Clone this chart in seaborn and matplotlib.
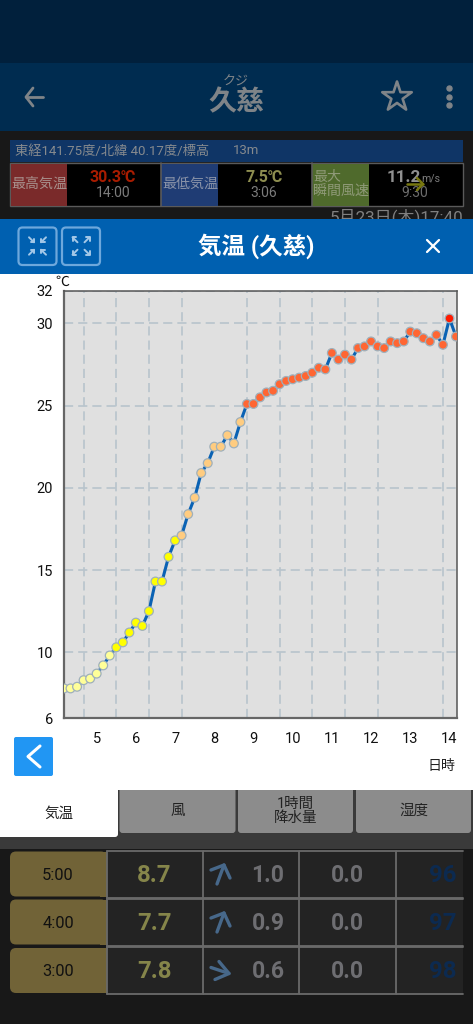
import numpy as np
import pandas as pd
import seaborn as sns
import matplotlib
matplotlib.use("Agg")
import matplotlib.pyplot as plt
from matplotlib.patches import Rectangle, FancyBboxPatch
from matplotlib.ticker import FixedLocator

# ---- data ----
temps = [7.8, 7.8, 7.9, 8.3, 8.4, 8.7, 9.2, 9.8, 10.3, 10.6, 11.2, 11.8, 11.6, 12.5, 14.3, 14.3,
         15.8, 16.8, 17.1, 18.4, 19.4, 20.9, 21.5, 22.5, 22.5, 23.2, 22.7, 24.0, 25.1, 25.1,
         25.5, 25.8, 25.9, 26.3, 26.5, 26.6, 26.7, 26.8, 27.0, 27.3, 27.2, 28.2, 27.8, 28.1,
         27.8, 28.5, 28.6, 28.9, 28.6, 28.5, 28.9, 28.8, 28.9, 29.5, 29.4, 29.1, 28.9, 29.3,
         28.7, 30.3, 29.2]
minutes_step = 10
first_hour = 4 + 10 / 60
hour_ticks = [5, 6, 7, 8, 9, 10, 11, 12, 13, 14]
temp_ticks = [6, 10, 15, 20, 25, 30, 32]
rows_time = ["5:00", "4:00", "3:00"]
rows_temp = ["8.7", "7.7", "7.8"]
rows_wind = ["1.0", "0.9", "0.6"]
rows_rain = ["0.0", "0.0", "0.0"]
rows_hum = ["96", "97", "98"]

band_colors = {"a": "#ffff99", "b": "#ffff00", "c": "#ffcc80", "d": "#ff6633", "e": "#ff1a00"}


def band(t):
    if t < 10:
        return "a"
    if t < 17:
        return "b"
    if t < 25:
        return "c"
    if t < 30:
        return "d"
    return "e"


df = pd.DataFrame({"hour": [first_hour + i * minutes_step / 60 for i in range(len(temps))], "temp": temps})
df["band"] = df["temp"].map(band)

# ---- figure ----
sns.set_theme(style="white")
plt.rcParams["font.family"] = ["Roboto", "Noto Sans CJK JP", "DejaVu Sans"]
W, H = 473, 1024
fig = plt.figure(figsize=(W / 100, H / 100), dpi=100)

ui = fig.add_axes([0, 0, 1, 1], zorder=0)
ui.set_xlim(0, W)
ui.set_ylim(H, 0)
ui.axis("off")


def R(x0, y0, x1, y1, c, ec="none", lw=0, z=1):
    ui.add_patch(Rectangle((x0, y0), x1 - x0, y1 - y0, fc=c, ec=ec, lw=lw, zorder=z))


def RR(x0, y0, x1, y1, c, ec="none", lw=0, r=4, z=1):
    ui.add_patch(FancyBboxPatch((x0 + r, y0 + r), x1 - x0 - 2 * r, y1 - y0 - 2 * r,
                                boxstyle=f"round,pad={r},rounding_size={r}", fc=c, ec=ec, lw=lw, zorder=z))


def T(x, y, s, px, c, ha="center", w="normal", z=3):
    ui.text(x, y, s, fontsize=px * 0.72, color=c, ha=ha, va="center", fontweight=w, zorder=z)


def L(xs, ys, c, lw=1.5, z=3):
    ui.plot(xs, ys, color=c, lw=lw, zorder=z, solid_capstyle="round", solid_joinstyle="round")


# dimmed app behind
R(0, 0, W, 63, "#01203c")
R(0, 63, W, 131, "#002c50")
R(0, 131, W, 220, "#181818")
GREY = "#7f8488"
L([26, 43], [97, 97], GREY, 2)
L([33, 26, 33], [88, 97, 106], GREY, 2)
T(236, 82, "クジ", 13, GREY)
T(236, 103, "久慈", 28, GREY, w="bold")
ui.scatter([397], [97], marker="*", s=500, facecolor="none", edgecolor=GREY, linewidth=1.9, zorder=3)
ui.scatter([449, 449, 449], [88, 97, 105], s=13, color=GREY, zorder=3)

R(10, 140, 463, 162, "#0f3566")
T(15, 151, "東経141.75度/北緯 40.17度/標高", 13.3, "#868a8e", ha="left")
T(233, 151, "13m", 13.3, "#868a8e", ha="left")
R(10, 163, 463, 206, "#000000", ec="#5a5a5a", lw=1)
R(11, 163.5, 67, 205.5, "#7a2a2a")
R(161, 163.5, 218, 205.5, "#1f3c74")
R(312, 163.5, 369, 205.5, "#4f6a2c")
for xv in (160.5, 311.5):
    L([xv, xv], [163, 206], "#5a5a5a", 1.2)
T(39, 184, "最高気温", 14, "#a8908c")
T(190, 184, "最低気温", 14, "#8a93a8")
T(313, 177, "最大", 14, "#8f9a78", ha="left")
T(341, 191, "瞬間風速", 14, "#8f9a78")
T(113, 177, "30.3℃", 16, "#a81c00", w="bold")
T(113, 193, "14:00", 14, "#7c7c7c")
T(264, 177, "7.5℃", 16, "#8e8e50", w="bold")
T(264, 193, "3:06", 14, "#7c7c7c")
T(404, 177, "11.2", 17, "#909090", w="bold")
T(431, 178, "m/s", 10.5, "#7c7c7c")
T(415, 193, "9:30", 14, "#6c6c6c")
L([407, 423], [184, 184], "#787810", 1.8)
L([417, 423, 417], [178, 184, 190], "#787810", 1.8)
T(463, 217, "5月23日(木)17:40", 17, "#808080", ha="right", z=1)

# dialog header
R(0, 219, W, 274, "#0060b0", z=2)
RR(18.5, 227.5, 56.5, 265, "none", ec="#6ea8dc", lw=1.6, r=4, z=3)
RR(62, 227.5, 100, 265, "none", ec="#6ea8dc", lw=1.6, r=4, z=3)
ARW = "#a4c8e8"
for cx, inward in ((37.5, True), (81, False)):
    for dx in (-1, 1):
        for dy in (-1, 1):
            mx, my = cx + dx * 6, 246 + dy * 6.2
            s = -1 if inward else 1
            hx, hy = mx + s * dx * 2.5, my + s * dy * 2.5
            tx, ty = mx - s * dx * 2.5, my - s * dy * 2.5
            L([tx, hx], [ty, hy], ARW, 1.4, z=4)
            L([hx - s * dx * 3.5, hx, hx], [hy, hy, hy - s * dy * 3.5], ARW, 1.4, z=4)
T(256, 246, "気温 (久慈)", 23.5, "#ffffff", w="bold", z=4)
L([427, 439], [240, 252], "#ffffff", 1.6, z=4)
L([427, 439], [252, 240], "#ffffff", 1.6, z=4)

# white dialog
R(0, 274, W, 790, "#ffffff", z=2)
T(62, 282, "℃", 14, "#111111", z=4)
T(441, 766, "日時", 14, "#222222", z=4)
RR(14, 737, 53, 776, "#2196f3", r=2, z=3)
L([40, 28, 40], [746, 756.5, 767], "#ffffff", 2.2, z=4)

# tabs and table
R(0, 790, W, 849, "#3a3a3a", z=1)
R(0, 849, W, H, "#181818", z=1)
for x0, x1, lab in ((119.5, 235.5, "風"), (238, 353, "1時間\n降水量"), (356, 471, "湿度")):
    RR(x0, 786, x1, 833, "#8c8c8c", r=3, z=1.5)
    ui.text((x0 + x1) / 2, 811, lab, fontsize=14.5 * 0.72, color="#222222", ha="center", va="center",
            linespacing=0.95, zorder=3)
RR(-3, 786, 118, 837, "#ffffff", r=3, z=1.5)
T(59, 814, "気温", 14.5, "#222222", z=4)

row_y = [850.5, 898.5, 947]
col_x = [(107, 202), (203, 298), (299, 395), (396, 463)]
arrow_dirs = [(1, -1), (1, -1), (1, 1)]
for i, y0 in enumerate(row_y):
    y1 = y0 + 47
    ym = y0 + 23.5
    yt = ym + 1.5
    RR(10, y0 + 1, 107, y1 - 1, "#716337", r=6, z=2)
    R(100, y0 + 1, 107, y1 - 1, "#716337", z=2)
    for a, b in col_x:
        R(a, y0, b, y1, "#232323", z=2)
        L([a, a], [y0, y1], "#6a6a6a", 1.3, z=2.5)
        L([a, b], [y0, y0], "#6a6a6a", 1.3, z=2.5)
        L([a, b], [y1, y1], "#6a6a6a", 1.3, z=2.5)
    T(58, yt, rows_time[i], 16.5, "#111111")
    T(154, yt, rows_temp[i], 24, "#85854a", w="bold")
    T(268, yt, rows_wind[i], 23, "#6e6e72", w="bold")
    T(347, yt, rows_rain[i], 23, "#6e6e72", w="bold")
    T(443, yt, rows_hum[i], 24, "#0c2a50", w="bold")
    c = "#47688a"
    if arrow_dirs[i][1] < 0:
        L([217, 224], [ym + 10, ym - 9], c, 2.4)
        L([211, 224, 230], [ym - 4, ym - 9, ym + 4], c, 2.4)
    else:
        L([211, 229], [ym - 3, ym + 3], c, 2.4)
        L([219, 229, 215], [ym - 9, ym + 3, ym + 9], c, 2.4)

# ---- chart ----
x0, x1, y_top, y_bot = 64, 457, 290.5, 718
ax = fig.add_axes([x0 / W, 1 - y_bot / H, (x1 - x0) / W, (y_bot - y_top) / H], zorder=5)
ax.set_facecolor("#e0e0e0")
sns.lineplot(data=df, x="hour", y="temp", color="#0a62b4", lw=2.2, ax=ax, legend=False, zorder=3, errorbar=None)
sns.scatterplot(data=df, x="hour", y="temp", hue="band", palette=band_colors, s=40,
                edgecolor="#9fb0bb", linewidth=0.9, ax=ax, legend=False, zorder=4)
ax.set_xlim(first_hour, first_hour + (x1 - x0) / 39.2)
ax.set_ylim(min(temp_ticks), max(temp_ticks))
ax.set_xlabel("")
ax.set_ylabel("")
ax.set_xticks(hour_ticks)
ax.set_xticklabels([str(h) for h in hour_ticks])
ax.set_yticks(temp_ticks)
grid_step = 50 / 60
ax.xaxis.set_minor_locator(FixedLocator([first_hour + 0.5 + k * grid_step for k in range(12)]))
ax.grid(False)
dash = (0, (5.5, 3))
ax.grid(True, axis="x", which="minor", color="#b8c4cc", lw=1.2, ls=dash, zorder=1)
ax.grid(True, axis="y", which="major", color="#b8c4cc", lw=1.2, ls=dash, zorder=1)
ax.tick_params(which="minor", length=0)
ax.tick_params(axis="x", which="major", length=0, pad=10, labelsize=10.5, colors="#111111")
ax.tick_params(axis="y", which="major", length=0, pad=8, labelsize=10.5, colors="#111111")
for s, lw, c in (("left", 1.6, "#666666"), ("bottom", 1.6, "#666666"), ("top", 1.1, "#555555"), ("right", 1.1, "#555555")):
    ax.spines[s].set_visible(True)
    ax.spines[s].set_linewidth(lw)
    ax.spines[s].set_color(c)

fig.savefig("out.png", dpi=100)
